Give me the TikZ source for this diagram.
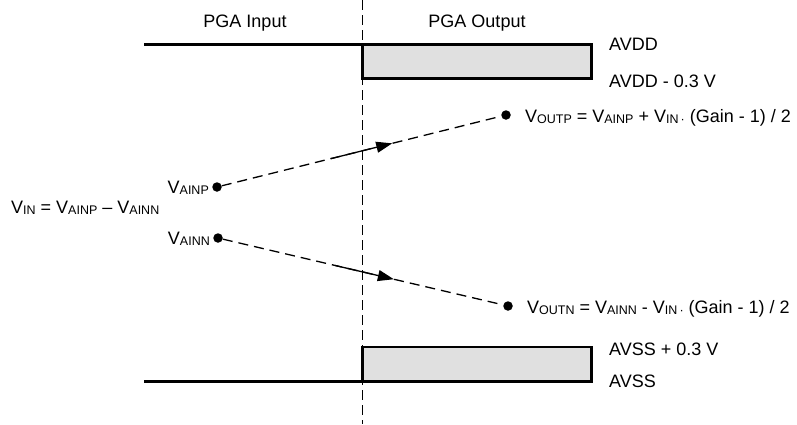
\documentclass[tikz,border=0pt]{standalone}
\usepackage{fontspec}
\setmainfont{Liberation Sans}
\usetikzlibrary{arrows.meta,positioning}
\definecolor{boxgray}{RGB}{224,224,224}
\newcommand{\vsub}[1]{\raisebox{-1pt}{\fontsize{12.5}{12.5}\selectfont #1}}

\begin{document}
\begin{tikzpicture}[x=1pt,y=-1pt,>={Triangle[length=16pt,width=11pt]},
		font=\fontsize{18}{21}\selectfont,
		dot/.style={circle,fill,inner sep=0pt,minimum size=9.5pt},
		lbl/.style={inner sep=0pt},
		level/.style={draw,line width=2.8pt,fill=boxgray,inner sep=0pt,outer sep=0pt,
			minimum width=229pt,minimum height=34.4pt},
		rail/.style={line width=2.8pt},
		link/.style={line width=1.3pt,dash pattern=on 10pt off 6pt}]

	\useasboundingbox (0,0) rectangle (797,424);

	\coordinate (D1) at (362,0);
	\coordinate (D2) at (362,424);
	\draw[line width=1pt,dash pattern=on 10pt off 5pt] (D1) -- (D2);

	\node[lbl,anchor=base] (IN) at (245,27) {PGA Input};
	\node[lbl,anchor=base] (OUT) at (477,27) {PGA Output};

	\node[level,anchor=north west] (HI) at (362.4,44.4) {};
	\node[level,anchor=south west] (LO) at (362.4,381.4) {};
	\coordinate (H0) at (144,44.4);
	\coordinate (L0) at (144,381.4);
	\draw[rail] (H0) -- (HI.north west);
	\draw[rail] (L0) -- (LO.south west);

	\node[lbl,anchor=base west] (A1) at (609,50) {AVDD};
	\node[lbl,anchor=base west] (A2) at (609,87) {AVDD - 0.3 V};
	\node[lbl,anchor=base west] (A3) at (609,355) {AVSS + 0.3 V};
	\node[lbl,anchor=base west] (A4) at (609,387) {AVSS};

	\node[dot] (P1) at (217,187) {};
	\node[dot] (N1) at (218,238) {};
	\node[dot] (P2) at (506,115) {};
	\node[dot] (N2) at (508,306) {};

	\node[lbl] (TP1) [left=3pt of P1, yshift=-1pt] {V\vsub{AINP}};
	\node[lbl] (TN1) [left=3pt of N1, yshift=-1pt] {V\vsub{AINN}};
	\node[lbl] (TP2) [right=14pt of P2, yshift=-3pt] {V\vsub{OUTP} = V\vsub{AINP} + V\vsub{IN\,·} (Gain - 1) / 2};
	\node[lbl] (TN2) [right=14pt of N2, yshift=-3pt] {V\vsub{OUTN} = V\vsub{AINN} - V\vsub{IN\,·} (Gain - 1) / 2};
	\node[lbl,anchor=base west] (VIN) at (11,213) {V\vsub{IN} = V\vsub{AINP} -- V\vsub{AINN}};

	\draw[link] (P1) -- (P2) coordinate[pos=0.39] (P3) coordinate[pos=0.61] (P4);
	\draw[link] (N1) -- (N2) coordinate[pos=0.4] (N3) coordinate[pos=0.61] (N4);
	\draw[->,line width=1.3pt] (P3) -- (P4);
	\draw[->,line width=1.3pt] (N3) -- (N4);
\end{tikzpicture}
\end{document}
